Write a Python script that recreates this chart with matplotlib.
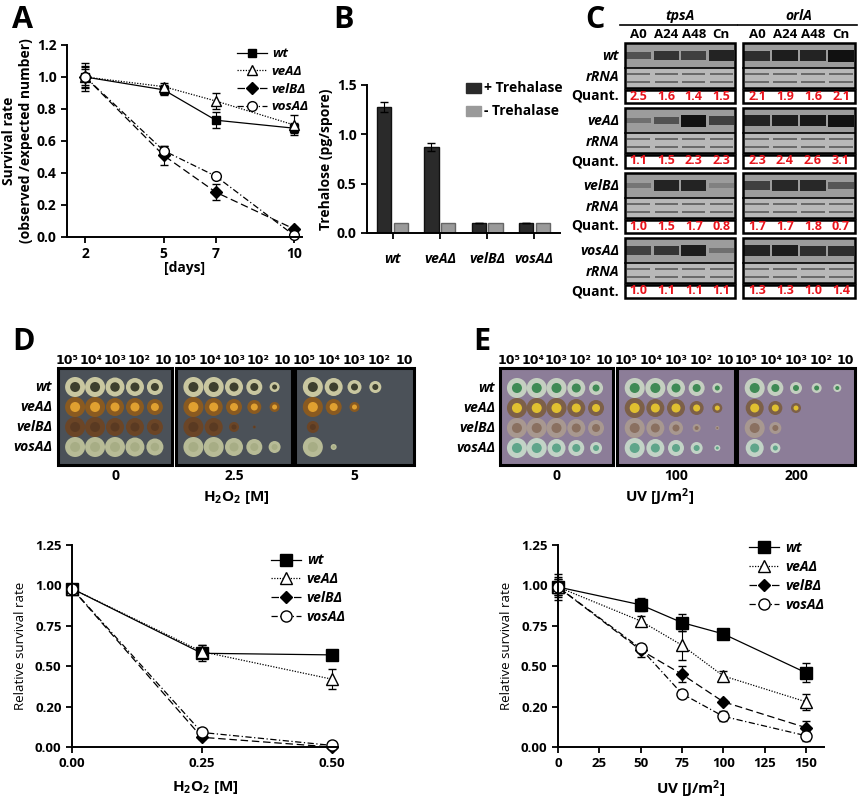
import matplotlib
matplotlib.use("Agg")
import matplotlib.pyplot as plt
from matplotlib.patches import Rectangle, Circle
from matplotlib.lines import Line2D

plt.rcParams['font.family'] = ['Open Sans', 'DejaVu Sans']
plt.rcParams['font.weight'] = 'bold'
plt.rcParams['axes.linewidth'] = 1.4
plt.rcParams['mathtext.fontset'] = 'custom'
plt.rcParams['mathtext.rm'] = 'Open Sans:bold'
plt.rcParams['mathtext.bf'] = 'Open Sans:bold'
plt.rcParams['mathtext.default'] = 'rm'

# ---------------- data ----------------
strains = ['wt', 'veAΔ', 'velBΔ', 'vosAΔ']
days = [2, 5, 7, 10]
surv_wt = [1.0, 0.92, 0.73, 0.68]
surv_veA = [1.0, 0.94, 0.85, 0.70]
surv_velB = [1.0, 0.51, 0.28, 0.05]
surv_vosA = [1.0, 0.54, 0.38, 0.01]
surv_err_wt = [0.07, 0.03, 0.05, 0.03]
surv_err_veA = [0.09, 0.02, 0.05, 0.06]
surv_err_velB = [0.05, 0.06, 0.05, 0.01]
surv_err_vosA = [0.06, 0.03, 0.01, 0.01]

treh_strains = ['wt', 'veAΔ', 'velBΔ', 'vosAΔ']
treh_plus = [1.28, 0.87, 0.10, 0.10]
treh_minus = [0.10, 0.10, 0.10, 0.10]
treh_plus_err = [0.05, 0.04, 0.0, 0.0]

gel_lanes = ['A0', 'A24', 'A48', 'Cn']
quant_tpsA = [[2.5, 1.6, 1.4, 1.5], [1.1, 1.5, 2.3, 2.3], [1.0, 1.5, 1.7, 0.8], [1.0, 1.1, 1.1, 1.1]]
quant_orlA = [[2.1, 1.9, 1.6, 2.1], [2.3, 2.4, 2.6, 3.1], [1.7, 1.7, 1.8, 0.7], [1.3, 1.3, 1.0, 1.4]]
band_tpsA = [[0.45, 0.7, 0.6, 0.85], [0.2, 0.45, 1.0, 0.6], [0.15, 0.85, 0.85, 0.05], [0.6, 0.7, 0.9, 0.2]]
band_orlA = [[0.75, 0.9, 0.85, 1.0], [0.85, 0.9, 0.95, 1.0], [0.6, 0.8, 0.8, 0.4], [0.85, 0.9, 0.75, 0.75]]

dilutions = ['10⁵', '10⁴', '10³', '10²', '10']
h2o2_doses = ['0', '2.5', '5']
uv_doses = ['0', '100', '200']
colony_D = [
    [[1, 1, .95, .9, .8], [1, 1, .9, .9, .8], [1, 1, .9, .9, .8], [1, 1, 1, .95, .85]],
    [[1, 1, .9, .8, .5], [1, .9, .8, .7, .5], [1, .9, .5, .15, 0], [1, 1, .9, .8, .6]],
    [[1, .9, .7, .6, 0], [1, .8, .5, 0, 0], [.6, 0, 0, 0, 0], [1, .3, 0, 0, 0]],
]
colony_E = [
    [[1, 1, 1, .9, .7], [1, 1, 1, .9, .8], [1, 1, 1, .9, .8], [1, 1, .9, .8, .6]],
    [[1, 1, .9, .8, .5], [1, .9, .9, .7, .5], [1, .9, .7, .4, .2], [1, .9, .8, .6, .3]],
    [[1, .8, .6, .5, .4], [.9, .7, .5, 0, 0], [1, .6, 0, 0, 0], [.9, .5, 0, 0, 0]],
]

h2o2 = [0.0, 0.25, 0.5]
h_wt = [0.98, 0.58, 0.57]
h_veA = [0.98, 0.59, 0.42]
h_velB = [0.98, 0.06, 0.0]
h_vosA = [0.98, 0.09, 0.01]
h_err_wt = [0.02, 0.05, 0.02]
h_err_veA = [0.02, 0.04, 0.06]
h_err_velB = [0.01, 0.01, 0.0]
h_err_vosA = [0.01, 0.01, 0.01]

uv = [0, 50, 75, 100, 150]
u_wt = [0.99, 0.88, 0.77, 0.70, 0.46]
u_veA = [0.99, 0.78, 0.63, 0.44, 0.28]
u_velB = [0.99, 0.60, 0.45, 0.28, 0.12]
u_vosA = [0.99, 0.61, 0.33, 0.19, 0.07]
u_err_wt = [0.08, 0.04, 0.05, 0.03, 0.06]
u_err_veA = [0.06, 0.03, 0.09, 0.03, 0.05]
u_err_velB = [0.05, 0.04, 0.05, 0.01, 0.04]
u_err_vosA = [0.05, 0.02, 0.01, 0.03, 0.03]

# ---------------- figure ----------------
fig = plt.figure(figsize=(8.6, 8.0), dpi=100)
W, H = 860, 800


def ax_px(l, t, r, b, **kw):
    ax = fig.add_axes([l / W, 1 - b / H, (r - l) / W, (b - t) / H], **kw)
    ax.patch.set_alpha(0)
    return ax


ov = fig.add_axes([0, 0, 1, 1], zorder=0)
ov.set_xlim(0, W)
ov.set_ylim(H, 0)
ov.axis('off')

for letter, (x, y) in zip('ABCDE', [(12, 20), (333, 20), (585, 20), (12, 342), (473, 342)]):
    ov.text(x, y, letter, fontsize=22, fontweight='bold', va='center', ha='left')

styles = [dict(ls='-', marker='s', mfc='black', mec='black'),
          dict(ls=(0, (1, 1.2)), marker='^', mfc='white', mec='black'),
          dict(ls=(0, (6, 3)), marker='D', mfc='black', mec='black'),
          dict(ls=(0, (5, 2, 1, 2)), marker='o', mfc='white', mec='black')]


def style_ax(ax, fs=9.5):
    ax.spines['top'].set_visible(False)
    ax.spines['right'].set_visible(False)
    ax.tick_params(direction='out', width=1.3, length=4, labelsize=fs)
    for t in ax.get_xticklabels() + ax.get_yticklabels():
        t.set_fontweight('bold')


def series_plot(ax, x, ys, errs, ms_list):
    for y, e, st, ms in zip(ys, errs, styles, ms_list):
        ax.errorbar(x, y, yerr=e, color='black', lw=0.9, ls=st['ls'], marker=st['marker'],
                    mfc=st['mfc'], mec=st['mec'], ms=ms, capsize=3, elinewidth=0.8,
                    clip_on=False)


def legend(ax, ms_list, loc, fs, bbox):
    hs = [Line2D([], [], color='black', lw=0.9, ls=st['ls'], marker=st['marker'],
                 mfc=st['mfc'], mec='black', ms=ms) for st, ms in zip(styles, ms_list)]
    lg = ax.legend(hs, strains, loc=loc, bbox_to_anchor=bbox, frameon=False, fontsize=fs,
                   handlelength=2.2, labelspacing=0.35, handletextpad=0.4)
    for t in lg.get_texts():
        t.set_fontstyle('italic')
        t.set_fontweight('bold')


# ---- A ----
axA = ax_px(67, 45, 302, 237)
series_plot(axA, days, [surv_wt, surv_veA, surv_velB, surv_vosA],
            [surv_err_wt, surv_err_veA, surv_err_velB, surv_err_vosA], [6, 7, 6, 7])
axA.set_xlim(1.3, 10.3)
axA.set_ylim(0, 1.2)
axA.set_xticks(days)
axA.set_yticks([0, 0.2, 0.4, 0.6, 0.8, 1.0, 1.2])
axA.set_yticklabels(['0.0', '0.2', '0.4', '0.6', '0.8', '1.0', '1.2'])
axA.set_xlabel('[days]', fontsize=10, fontweight='bold', labelpad=0)
axA.set_ylabel('Survival rate\n(observed /expected number)', fontsize=10, fontweight='bold', labelpad=3)
style_ax(axA, 10)
legend(axA, [6, 7, 6, 7], 'upper right', 9.5, (1.08, 1.05))

# ---- B ----
axB = ax_px(367, 85, 560, 233)
xb = range(len(treh_strains))
axB.bar([i - 0.18 for i in xb], treh_plus, width=0.3, color='#2a2a2a', edgecolor='#111111',
        yerr=treh_plus_err, capsize=3, error_kw=dict(lw=0.8))
axB.bar([i + 0.18 for i in xb], treh_minus, width=0.3, color='#9a9a9a', edgecolor='#666666')
axB.set_xlim(-0.55, 3.55)
axB.set_ylim(0, 1.5)
axB.set_yticks([0, 0.5, 1.0, 1.5])
axB.set_yticklabels(['0.0', '0.5', '1.0', '1.5'])
axB.set_xticks(list(xb))
axB.set_xticklabels(treh_strains)
axB.tick_params(axis='x', length=0, pad=10)
axB.set_ylabel('Trehalose (pg/spore)', fontsize=10, fontweight='bold', labelpad=3)
style_ax(axB, 10)
for t in axB.get_xticklabels():
    t.set_fontstyle('italic')
ov.add_patch(Rectangle((466, 83), 15, 10, color='#2a2a2a'))
ov.add_patch(Rectangle((466, 106), 15, 10, color='#9a9a9a'))
ov.text(484, 88, '+ Trehalase', fontsize=10, fontweight='bold', va='center')
ov.text(484, 111, '- Trehalase', fontsize=10, fontweight='bold', va='center')

# ---- C (northern blots) ----
blocks = [(625, 735, 'tpsA', band_tpsA, quant_tpsA), (743, 855, 'orlA', band_orlA, quant_orlA)]
for x0, x1, gene, bands, quants in blocks:
    xc = (x0 + x1) / 2
    ov.text(xc, 16, gene, fontsize=10, fontstyle='italic', fontweight='bold', ha='center', va='center')
    ov.plot([x0 - 5, x1 + 2], [25, 25], color='black', lw=1.2)
    lw_ = (x1 - x0) / 4
    for i, ln in enumerate(gel_lanes):
        ov.text(x0 + lw_ * (i + 0.5), 35, ln, fontsize=9.5, fontweight='bold', ha='center', va='center')
    for g in range(4):
        t = 43 + 65 * g
        ov.add_patch(Rectangle((x0, t), x1 - x0, 25, facecolor='#9c9c9c', edgecolor='none'))
        ov.add_patch(Rectangle((x0, t + 25), x1 - x0, 20, facecolor='#b8b8b8', edgecolor='none'))
        for i in range(4):
            cx = x0 + lw_ * (i + 0.5)
            v = bands[g][i]
            ov.add_patch(Rectangle((cx - lw_ * 0.45, t + 12.5 - 2 - 4 * v), lw_ * 0.9, 4 + 8 * v,
                                   color='#111111', alpha=0.15 + 0.85 * v, lw=0))
            ov.add_patch(Rectangle((cx - lw_ * 0.42, t + 30), lw_ * 0.84, 2, color='#6a6a6a', lw=0))
            ov.add_patch(Rectangle((cx - lw_ * 0.42, t + 38), lw_ * 0.84, 2, color='#6a6a6a', lw=0))
            ov.text(cx, t + 53, f'{quants[g][i]:.1f}', color='#e8141c', fontsize=9,
                    fontweight='bold', ha='center', va='center')
        ov.add_patch(Rectangle((x0, t), x1 - x0, 45, facecolor='none', edgecolor='black', lw=1.8))
        ov.plot([x0, x1], [t + 25, t + 25], color='black', lw=1.2)
        ov.add_patch(Rectangle((x0, t + 47), x1 - x0, 13, facecolor='none', edgecolor='black', lw=1.8))

for g, s in enumerate(strains):
    t = 43 + 65 * g
    ov.text(619, t + 13, s, fontsize=10, fontstyle='italic', fontweight='bold', ha='right', va='center')
    ov.text(619, t + 34, 'rRNA', fontsize=10, fontstyle='italic', fontweight='bold', ha='right', va='center')
    ov.text(619, t + 53, 'Quant.', fontsize=10, fontweight='bold', ha='right', va='center')

# ---- D / E plates ----
row_colors_D = [('#c9c7a0', '#3d3f2e'), ('#8a5a20', '#e0a030'), ('#6b4526', '#5a3a22'), ('#b7bb96', '#a7ad85')]
row_colors_E = [('#c4cfc0', '#3f8a55'), ('#7d6048', '#e0c030'), ('#a89890', '#8a7060'), ('#c2d3c6', '#5fa58a')]


def plates(xs, rows_y, sizes, bg, colors, dose_labels, xlabel, row_lbl_x, xl_center):
    for p, (x0, x1) in enumerate(xs):
        ov.add_patch(Rectangle((x0, 368), x1 - x0, 97, facecolor=bg, edgecolor='black', lw=2.2))
        cols = [x0 + (x1 - x0) * (0.15 + 0.175 * i) for i in range(5)]
        lbl_x = [x0 + (x1 - x0) * (0.08 + 0.21 * i) for i in range(5)]
        for i, cx in enumerate(lbl_x):
            ov.text(cx, 360, dilutions[i], fontsize=9, fontweight='bold', ha='center', va='center',
                    family=['DejaVu Sans'])
        for r, cy in enumerate(rows_y):
            for i, cx in enumerate(cols):
                s = sizes[p][r][i]
                if s > 0:
                    ov.add_patch(Circle((cx, cy), 10 * s, color=colors[r][0], lw=0))
                    ov.add_patch(Circle((cx, cy), 5 * s, color=colors[r][1], lw=0))
        ov.text((x0 + x1) / 2, 476, dose_labels[p], fontsize=10, fontweight='bold', ha='center', va='center')
    ov.text(xl_center, 497, xlabel, fontsize=11, fontweight='bold', ha='center', va='center')
    for r, cy in enumerate(rows_y):
        ov.text(row_lbl_x, cy, strains[r], fontsize=10, fontstyle='italic', fontweight='bold',
                ha='right', va='center')


plates([(58, 172), (176, 292), (295, 414)], [387, 407, 427, 447], colony_D, '#4b5158',
       row_colors_D, h2o2_doses, 'H$_2$O$_2$ [M]', 52, 236)
plates([(500, 613), (617, 735), (737, 855)], [388, 408, 428, 448], colony_E, '#8c7d98',
       row_colors_E, uv_doses, 'UV [J/m$^2$]', 495, 660)

# ---- D bottom ----
ticks_y = [0, 0.25, 0.5, 0.75, 1.0, 1.25]
ticklabels_y = ['0.00', '0.20', '0.50', '0.75', '1.00', '1.25']
axD = ax_px(72, 545, 338, 747)
series_plot(axD, h2o2, [h_wt, h_veA, h_velB, h_vosA],
            [h_err_wt, h_err_veA, h_err_velB, h_err_vosA], [8, 8, 6, 8])
axD.set_xlim(0, 0.512)
axD.set_ylim(0, 1.25)
axD.set_xticks(h2o2)
axD.set_xticklabels(['0.00', '0.25', '0.50'])
axD.set_yticks(ticks_y)
axD.set_yticklabels(ticklabels_y)
axD.set_xlabel('H$_2$O$_2$ [M]', fontsize=11, fontweight='bold', labelpad=6)
axD.set_ylabel('Relative survival rate', fontsize=9.5, labelpad=6)
style_ax(axD, 9.5)
legend(axD, [8, 8, 6, 8], 'upper left', 10, (0.7, 1.02))

# ---- E bottom ----
axE = ax_px(558, 545, 824, 747)
series_plot(axE, uv, [u_wt, u_veA, u_velB, u_vosA],
            [u_err_wt, u_err_veA, u_err_velB, u_err_vosA], [8, 8, 6, 8])
axE.set_xlim(0, 161)
axE.set_ylim(0, 1.25)
axE.set_xticks([0, 25, 50, 75, 100, 125, 150])
axE.set_yticks(ticks_y)
axE.set_yticklabels(ticklabels_y)
axE.set_xlabel('UV [J/m$^2$]', fontsize=11, fontweight='bold', labelpad=6)
axE.set_ylabel('Relative survival rate', fontsize=9.5, labelpad=6)
style_ax(axE, 9.5)
legend(axE, [8, 8, 6, 8], 'upper left', 10, (0.67, 1.08))

fig.savefig('out.png', dpi=100, facecolor='white')
